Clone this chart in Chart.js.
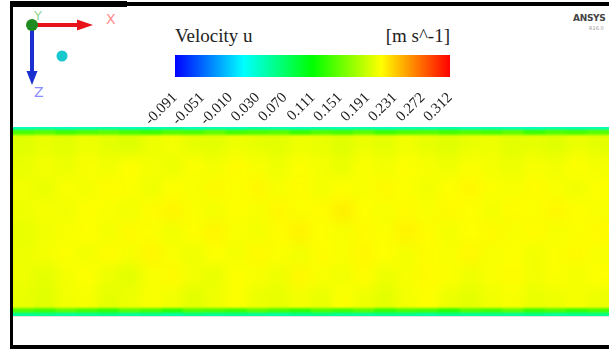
<!DOCTYPE html>
<html>
<head>
<meta charset="utf-8">
<script src="https://cdn.jsdelivr.net/npm/chart.js@4/dist/chart.umd.min.js"></script>
<style>
  body { margin: 0; background: #fff; width: 609px; height: 349px; overflow: hidden; position: relative; }
  .abs { position: absolute; }
  .blk { position: absolute; background: #000; }
  #title { left: 175px; top: 26px; font: 19px 'Liberation Serif', serif; color: #222; line-height: 19px; }
  #units { left: 360px; width: 90px; text-align: right; top: 26px; font: 19px 'Liberation Serif', serif; color: #222; line-height: 19px; }
  #logo { left: 573px; top: 13px; font: bold 9px 'DejaVu Sans', sans-serif; color: #444; letter-spacing: -0.3px; }
  #ver { left: 589px; top: 25px; font: 5px 'DejaVu Sans', sans-serif; color: #999; }
</style>
</head>
<body>
<div class="blk" style="left:10px;top:2px;width:599px;height:4px"></div>
<div class="blk" style="left:10px;top:1px;width:117px;height:6px"></div>
<div class="blk" style="left:10px;top:2px;width:3px;height:347px"></div>
<div class="blk" style="left:10px;top:345px;width:599px;height:4px"></div>
<div class="abs" style="left:13px;top:316px;width:596px;height:1px;background:#e2e2e2"></div>

<svg class="abs" style="left:0;top:0" width="130" height="100">
  <line x1="32" y1="25" x2="80" y2="25" stroke="#e8121b" stroke-width="4"/>
  <polygon points="77,19.5 93,25 77,30.5" fill="#e8121b"/>
  <line x1="32" y1="25" x2="32" y2="74" stroke="#1b2fd0" stroke-width="4"/>
  <polygon points="26.5,71 32,85 37.5,71" fill="#1b2fd0"/>
  <text x="34" y="20" font-family="DejaVu Sans" font-size="13" fill="#8fd88f">Y</text>
  <circle cx="32" cy="25" r="6" fill="#1f8a1f"/>
  <text x="106" y="24" font-family="DejaVu Sans" font-size="14" fill="#ff8c8c">X</text>
  <text x="34" y="97" font-family="DejaVu Sans" font-size="14" fill="#8c8cff">Z</text>
  <circle cx="62" cy="56" r="5.5" fill="#17c9cf"/>
</svg>

<div id="title" class="abs">Velocity u</div>
<div id="units" class="abs">[m s^-1]</div>
<div id="logo" class="abs">ANSYS</div>
<div id="ver" class="abs">R16.0</div>

<canvas id="barCanvas" class="abs" style="left:120px;top:50px" width="370" height="90"></canvas>
<canvas id="fieldCanvas" class="abs" style="left:13px;top:127px" width="596" height="189"></canvas>

<script>
const U_MIN = -0.091;
const U_MAX = 0.312;
const tickValues = [-0.091, -0.051, -0.010, 0.030, 0.070, 0.111, 0.151, 0.191, 0.231, 0.272, 0.312];
const tickLabels = ['-0.091','-0.051','-0.010','0.030','0.070','0.111','0.151','0.191','0.231','0.272','0.312'];
const colorStops = [[0, '#0000ff'], [0.25, '#00ffff'], [0.5, '#00ff00'], [0.75, '#ffff00'], [1, '#ff0000']];

// channel height positions (0 = bottom wall, 1 = top wall) of the row edges
const zEdges = [0, 0.016, 0.04, 0.155, 0.27, 0.385, 0.5, 0.615, 0.73, 0.845, 0.96, 0.984, 1];
const wallRows = [0, 1, 10, 11];

// u velocity per cell, bottom row first, 28 stations along x
const uGrid = [
  [0.050,0.054,0.047,0.052,0.056,0.049,0.053,0.046,0.055,0.051,0.054,0.050,0.047,0.053,0.056,0.051,0.049,0.054,0.052,0.047,0.055,0.050,0.053,0.051,0.056,0.049,0.052,0.054],
  [0.142,0.136,0.147,0.139,0.131,0.145,0.138,0.128,0.143,0.140,0.134,0.146,0.138,0.130,0.142,0.136,0.145,0.132,0.140,0.138,0.127,0.143,0.137,0.147,0.134,0.141,0.131,0.139],
  [0.203,0.199,0.206,0.208,0.201,0.204,0.209,0.206,0.200,0.205,0.210,0.204,0.202,0.207,0.203,0.210,0.205,0.200,0.207,0.211,0.204,0.201,0.206,0.209,0.203,0.205,0.208,0.204],
  [0.205,0.201,0.207,0.211,0.204,0.200,0.209,0.213,0.206,0.203,0.211,0.208,0.205,0.214,0.209,0.206,0.212,0.204,0.208,0.213,0.210,0.205,0.209,0.212,0.206,0.210,0.207,0.211],
  [0.204,0.207,0.210,0.206,0.212,0.208,0.215,0.209,0.205,0.211,0.207,0.213,0.210,0.206,0.212,0.209,0.214,0.211,0.207,0.212,0.209,0.214,0.208,0.211,0.206,0.210,0.213,0.209],
  [0.202,0.206,0.209,0.211,0.207,0.213,0.210,0.206,0.211,0.215,0.209,0.207,0.212,0.216,0.211,0.208,0.213,0.210,0.216,0.212,0.207,0.211,0.213,0.209,0.212,0.208,0.210,0.213],
  [0.205,0.208,0.206,0.211,0.209,0.206,0.212,0.215,0.210,0.207,0.211,0.209,0.214,0.210,0.212,0.217,0.211,0.208,0.212,0.209,0.213,0.211,0.207,0.212,0.210,0.214,0.211,0.209],
  [0.206,0.203,0.209,0.207,0.212,0.210,0.205,0.211,0.208,0.213,0.210,0.214,0.208,0.212,0.207,0.211,0.209,0.213,0.210,0.206,0.211,0.214,0.210,0.208,0.212,0.209,0.206,0.210],
  [0.203,0.207,0.204,0.209,0.206,0.211,0.207,0.204,0.210,0.207,0.212,0.209,0.205,0.210,0.207,0.203,0.210,0.206,0.211,0.208,0.205,0.210,0.207,0.204,0.209,0.206,0.211,0.207],
  [0.199,0.203,0.200,0.205,0.201,0.198,0.204,0.207,0.202,0.200,0.205,0.202,0.200,0.205,0.203,0.199,0.204,0.201,0.206,0.202,0.199,0.203,0.205,0.200,0.202,0.199,0.204,0.201],
  [0.140,0.146,0.137,0.143,0.148,0.139,0.135,0.144,0.141,0.149,0.138,0.142,0.146,0.134,0.143,0.139,0.147,0.136,0.142,0.145,0.138,0.144,0.140,0.148,0.135,0.143,0.139,0.146],
  [0.034,0.037,0.032,0.036,0.039,0.033,0.035,0.038,0.032,0.036,0.034,0.039,0.035,0.033,0.037,0.034,0.038,0.032,0.036,0.035,0.039,0.033,0.037,0.034,0.032,0.038,0.035,0.036]
];

function hexRgb(h) { return [1, 3, 5].map(i => parseInt(h.slice(i, i + 2), 16)); }

function colorOf(v) {
  const f = Math.min(1, Math.max(0, (v - U_MIN) / (U_MAX - U_MIN)));
  for (let i = 1; i < colorStops.length; i++) {
    if (f <= colorStops[i][0]) {
      const [f0, c0] = colorStops[i - 1], [f1, c1] = colorStops[i];
      const t = (f - f0) / (f1 - f0), a = hexRgb(c0), b = hexRgb(c1);
      return `rgb(${a.map((x, k) => Math.round(x + (b[k] - x) * t)).join(',')})`;
    }
  }
  return colorStops[colorStops.length - 1][1];
}

// legend bar
new Chart(document.getElementById('barCanvas'), {
  type: 'bar',
  data: {
    labels: ['u'],
    datasets: [{
      data: [[U_MIN, U_MAX]],
      backgroundColor: ctx => {
        const a = ctx.chart.chartArea;
        if (!a) return '#888';
        const g = ctx.chart.ctx.createLinearGradient(a.left, 0, a.right, 0);
        colorStops.forEach(([p, c]) => g.addColorStop(p, c));
        return g;
      },
      borderWidth: 0,
      barPercentage: 1,
      categoryPercentage: 1,
    }],
  },
  options: {
    indexAxis: 'y',
    responsive: false,
    animation: false,
    layout: { padding: { left: 55, right: 40, top: 5, bottom: 0 } },
    plugins: { legend: { display: false }, tooltip: { enabled: false } },
    scales: {
      y: { display: false },
      x: {
        type: 'linear',
        min: U_MIN,
        max: U_MAX,
        border: { display: false },
        grid: { display: false },
        afterBuildTicks: s => { s.ticks = tickValues.map(v => ({ value: v })); },
        afterFit: s => { s.height = 63; },
        ticks: {
          autoSkip: false,
          minRotation: 45,
          maxRotation: 45,
          padding: 4,
          color: '#1a1a1a',
          font: { family: 'Liberation Serif', size: 15 },
          callback: (v, i) => tickLabels[i],
        },
      },
    },
  },
});

// smooth shading: interior cells get a wide blur, walls a light one
function blurCanvas(chart, px) {
  const { ctx, canvas } = chart;
  const tmp = document.createElement('canvas');
  tmp.width = canvas.width; tmp.height = canvas.height;
  tmp.getContext('2d').drawImage(canvas, 0, 0);
  ctx.save();
  ctx.setTransform(1, 0, 0, 1, 0, 0);
  ctx.clearRect(0, 0, canvas.width, canvas.height);
  ctx.filter = `blur(${px}px)`;
  ctx.drawImage(tmp, 0, 0);
  ctx.filter = 'none';
  ctx.globalCompositeOperation = 'destination-over';
  ctx.drawImage(tmp, 0, 0);
  ctx.restore();
}

const blurPlugin = {
  id: 'fieldBlur',
  beforeDatasetsDraw(chart) { chart.$softened = false; },
  beforeDatasetDraw(chart, args) {
    if (!chart.$softened && wallRows.includes(args.index)) {
      blurCanvas(chart, 6);
      chart.$softened = true;
    }
  },
  afterDatasetsDraw(chart) { blurCanvas(chart, 1.2); },
};

new Chart(document.getElementById('fieldCanvas'), {
  type: 'bar',
  data: {
    labels: uGrid[0].map((_, i) => i),
    datasets: uGrid.map((row, r) => ({
      data: row.map(() => [zEdges[r], zEdges[r + 1]]),
      backgroundColor: row.map(colorOf),
      borderWidth: 0,
      barPercentage: 1,
      categoryPercentage: 1,
      grouped: false,
      order: wallRows.includes(r) ? 0 : 1,
    })),
  },
  options: {
    responsive: false,
    animation: false,
    layout: { padding: 0 },
    plugins: { legend: { display: false }, tooltip: { enabled: false } },
    scales: {
      x: { display: false },
      y: { display: false, min: 0, max: 1 },
    },
  },
  plugins: [blurPlugin],
});
</script>
</body>
</html>
